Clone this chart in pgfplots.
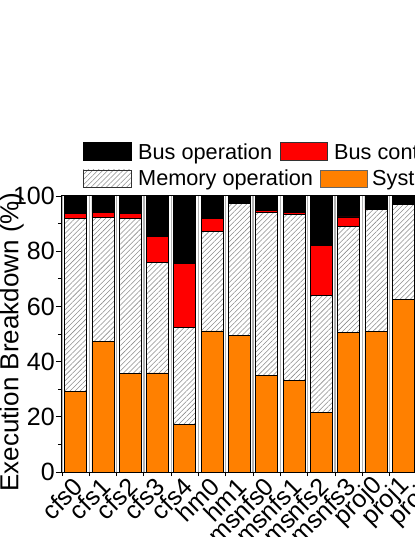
\documentclass[border=0pt]{standalone}
\usepackage{fontspec}
\setmainfont{Liberation Sans}
\usepackage{pgfplots}
\usepackage{pgfplotstable}
\pgfplotsset{compat=1.18}
\usetikzlibrary{patterns.meta}

\definecolor{sysorange}{RGB}{255,128,0}
\definecolor{busred}{RGB}{255,0,0}
\definecolor{hatchgray}{RGB}{140,140,140}

% stacked shares in percent: system, memory op, bus contention, bus op
\pgfplotstableread{
idx name   sys  mem  cont bus
0   cfs0   29.3 62.6 1.7  6.4
1   cfs1   47.2 45.0 1.9  5.9
2   cfs2   35.7 56.3 1.6  6.4
3   cfs3   35.9 40.1 9.4  14.6
4   cfs4   17.3 35.1 23.1 24.5
5   hm0    51.1 36.1 4.6  8.2
6   hm1    49.6 47.7 0.0  2.7
7   msnfs0 35.1 59.0 0.8  5.1
8   msnfs1 33.2 60.2 0.8  5.8
9   msnfs2 21.6 42.3 18.1 18.0
10  msnfs3 50.6 38.4 3.4  7.6
11  proj0  51.0 44.0 0.5  4.5
12  proj1  62.4 34.5 0.0  3.1
13  proj2  60.0 35.0 1.0  4.0
}\breakdown

\tikzset{
  memhatch/.style={pattern={Lines[angle=45,distance=3.6pt,line width=0.55pt]},
                   pattern color=hatchgray},
  keybox/.style={line width=0.8bp},
}

\begin{document}
\begin{tikzpicture}
\begin{axis}[
    scale only axis,
    width=382.2bp,
    height=276bp,
    ybar stacked,
    bar width=22bp,
    xmin=-0.5, xmax=13.5,
    ymin=0, ymax=100,
    xtick={0,...,13},
    xticklabels={cfs0,cfs1,cfs2,cfs3,cfs4,hm0,hm1,msnfs0,msnfs1,msnfs2,msnfs3,proj0,proj1,proj2},
    major x tick style={draw=none},
    minor xtick={-0.5,0.5,...,13.5},
    xminorgrids,
    minor x grid style={gray!60, line width=1.3bp},
    xtick pos=bottom,
    ytick={0,20,...,100},
    minor y tick num=1,
    ytick pos=left,
    tick align=outside,
    major tick length=6bp,
    minor tick length=4bp,
    tick style={black, line width=0.8bp},
    axis line style={black, line width=1bp},
    /pgf/number format/assume math mode=true,
    yticklabel style={font=\fontsize{25bp}{30bp}\selectfont, inner sep=1bp},
    xticklabel style={font=\fontsize{25bp}{30bp}\selectfont, rotate=45,
                      anchor=east, inner sep=1bp, yshift=-5bp},
    ylabel={Execution Breakdown (\%)},
    ylabel style={font=\fontsize{26bp}{30bp}\selectfont, inner sep=0pt,
                  at={(axis description cs:-0.0994,0.471)}, anchor=south},
]
\addplot[fill=sysorange, draw=black, line width=0.8bp]
    table[x=idx, y=sys] {\breakdown};
\addplot[memhatch, draw=black, line width=0.8bp]
    table[x=idx, y=mem] {\breakdown};
\addplot[fill=busred, draw=black, line width=0.8bp]
    table[x=idx, y=cont] {\breakdown};
\addplot[fill=black, draw=black, line width=0.8bp]
    table[x=idx, y=bus] {\breakdown};
\end{axis}

% legend, two independent rows
\begin{scope}[font=\fontsize{21.7bp}{26bp}\selectfont]
\draw[keybox, fill=black, draw=black] (21bp,311.3bp) rectangle (69bp,329.3bp);
\node[anchor=base west, inner sep=0pt] at (76bp,312bp) {Bus operation};
\draw[keybox, fill=busred, draw=black!80] (218bp,311.3bp) rectangle (265bp,329.3bp);
\node[anchor=base west, inner sep=0pt] at (272bp,312bp) {Bus contention};
\draw[keybox, memhatch, draw=black!80] (21bp,284.7bp) rectangle (69bp,302bp);
\node[anchor=base west, inner sep=0pt] at (76bp,286bp) {Memory operation};
\draw[keybox, fill=sysorange, draw=black!60] (258.7bp,284.7bp) rectangle (305.3bp,302bp);
\node[anchor=base west, inner sep=0pt] at (310bp,286bp) {System software};
\end{scope}

\pgfresetboundingbox
\path (-62bp,-65bp) rectangle (353bp,472bp);
\end{tikzpicture}
\end{document}
